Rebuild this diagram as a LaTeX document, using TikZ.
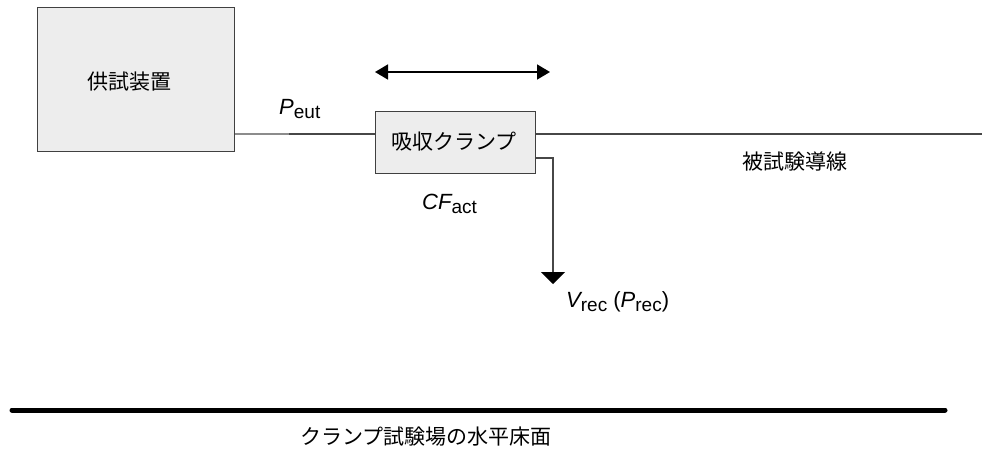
\documentclass[tikz,border=0pt]{standalone}
\usepackage{fontspec}
\setmainfont{Liberation Sans}
\newfontfamily\cjk{Noto Sans CJK JP}
\usetikzlibrary{arrows.meta}
\newcommand{\qsub}[1]{\raisebox{-4.5pt}{\fontsize{19}{19}\selectfont\upshape #1}}
\begin{document}
\begin{tikzpicture}[x=1pt,y=-1pt,
  box/.style={draw=black!75,line width=1.4pt,fill=black!7,inner sep=0pt,anchor=north west},
  wire/.style={draw=black!72,line width=1.4pt},
  lbl/.style={font=\fontsize{22}{22}\selectfont,inner sep=0pt},
  jlbl/.style={font=\cjk\fontsize{21}{21}\selectfont,inner sep=0pt}]
\useasboundingbox (0,0) rectangle (982,456);
\node[box,minimum width=197pt,minimum height=144pt] (eut) at (37,7) {};
\node[jlbl] (eutT) at (129,82) {供試装置};
\node[box,minimum width=160pt,minimum height=62pt] (clamp) at (375,111) {};
\node[jlbl] (clampT) at (454,142) {吸収クランプ};
\coordinate (lineL) at (eut.east |- 0,134);
\coordinate (lineM) at (289,134);
\coordinate (clampL) at (clamp.west |- 0,134);
\coordinate (clampR) at (clamp.east |- 0,134);
\coordinate (lineEnd) at (982,134);
\draw[wire,draw=black!45] (lineL) -- (lineM);
\draw[wire] (lineM) -- (clampL);
\draw[wire] (clampR) -- (lineEnd);
\coordinate (outS) at (clamp.east |- 0,158);
\coordinate (outC) at (553,158);
\coordinate (outE) at (553,284);
\draw[wire,-{Triangle[length=12pt,width=24pt,color=black]}] (outS) -- (outC) -- (outE);
\coordinate (dA) at (375,72);
\coordinate (dB) at (550,72);
\draw[line width=1.6pt,{Triangle[length=13pt,width=15pt]}-{Triangle[length=13pt,width=15pt]}] (dA) -- (dB);
\node[lbl,anchor=base west] (peut) at (279,114) {\itshape P\qsub{eut}};
\node[lbl,anchor=base west] (cf) at (422,209) {\itshape CF\qsub{act}};
\node[lbl,anchor=base west] (vrec) at (566,307) {\itshape V\qsub{rec} \upshape(\itshape P\qsub{rec}\upshape)};
\node[jlbl] (wireT) at (795,162) {被試験導線};
\coordinate (gA) at (12,410);
\coordinate (gB) at (945,410);
\draw[line width=5pt,line cap=round] (gA) -- (gB);
\node[jlbl] (floor) at (426,437) {クランプ試験場の水平床面};
\end{tikzpicture}
\end{document}
